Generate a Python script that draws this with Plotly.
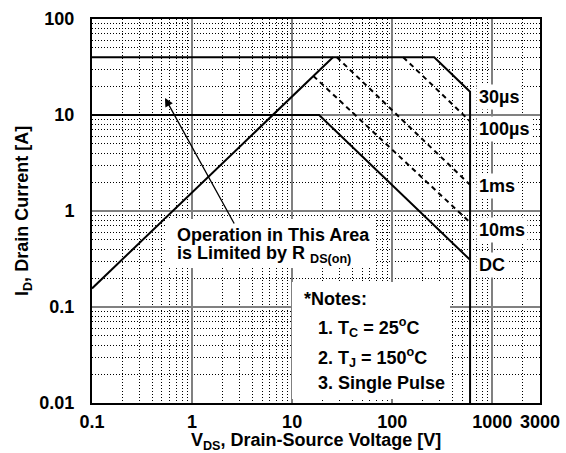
import plotly.graph_objects as go
import numpy as np

# ---- data ----
rds_v = [0.1, 25.6]
rds_i = [0.156, 40]
limit_v = [0.1, 263, 600, 600]          # 40 A limit + 30 us line + BVdss
limit_i = [40, 40, 17.5, 0.01]
dc_v = [0.1, 18.6, 600]
dc_i = [10, 10, 0.31]
us100_v = [129, 600]
us100_i = [40, 8.6]
ms1_v = [28, 600]
ms1_i = [40, 1.87]
ms10_v = [16.3, 600]
ms10_i = [25.5, 0.76]

x_ticks = [0.1, 1, 10, 100, 1000, 3000]
x_ticktext = ["0.1", "1", "10", "100", "1000", "3000"]
y_ticks = [0.01, 0.1, 1, 10, 100]
y_ticktext = ["0.01", "0.1", "1", "10", "100"]

FONT = "Arial, 'Liberation Sans', sans-serif"

# plot area in pixels
L, R, T, B = 92, 540, 19, 403
W, H = 566, 453


def px(x):
    return (x - L) / (R - L)


def py(y):
    return (B - y) / (B - T)


fig = go.Figure()
solid = dict(color="black", width=2)
dashed = dict(color="black", width=2, dash="5px,4px")
for xv, yv, ln in [(rds_v, rds_i, solid), (limit_v, limit_i, solid), (dc_v, dc_i, solid),
                   (us100_v, us100_i, dashed), (ms1_v, ms1_i, dashed), (ms10_v, ms10_i, dashed)]:
    fig.add_trace(go.Scatter(x=xv, y=yv, mode="lines", line=ln, showlegend=False, hoverinfo="skip"))

minor_x = [k * 10.0 ** e for e in range(-1, 4) for k in range(2, 10) if k * 10.0 ** e < 3000]
minor_y = [k * 10.0 ** e for e in range(-2, 2) for k in range(2, 10)]

axis_common = dict(
    type="log", automargin=False,
    showline=True, mirror=True, linecolor="black", linewidth=2,
    showgrid=True, gridcolor="#808080", gridwidth=2,
    ticks="", tickfont=dict(family=FONT, size=18, color="black", weight="bold"),
    zeroline=False,
)
minor_grid = dict(showgrid=True, gridcolor="black", griddash="1px,2px", gridwidth=1, ticks="")

fig.update_xaxes(**axis_common, range=[np.log10(0.1), np.log10(3000) + 1e-5],
                 tickmode="array", tickvals=x_ticks, ticktext=x_ticktext,
                 ticklabelstandoff=1,
                 minor=dict(tickmode="array", tickvals=minor_x, **minor_grid))
fig.update_yaxes(**axis_common, range=[np.log10(0.01), np.log10(100)],
                 tickmode="array", tickvals=y_ticks, ticktext=y_ticktext,
                 ticklabelstandoff=12,
                 minor=dict(tickmode="array", tickvals=minor_y, **minor_grid))

tfont = dict(family=FONT, size=18, color="black", weight="bold")
# axis titles
fig.add_annotation(x=px(316), y=py(441), xref="paper", yref="paper",
                   text="V<sub>DS</sub>, Drain-Source Voltage [V]", showarrow=False,
                   xanchor="center", yanchor="middle", font=tfont)
fig.add_annotation(x=px(23), y=py(211), xref="paper", yref="paper",
                   text="I<sub>D</sub>, Drain Current [A]", showarrow=False, textangle=-90,
                   xanchor="center", yanchor="middle", font=tfont)

# white boxes behind text blocks
for (x0, y0, x1, y1) in [(165, 219, 375, 268), (292, 282, 450, 399)]:
    fig.add_annotation(x=px(x0), y=py(y0), xref="paper", yref="paper", text=" ",
                       showarrow=False, xanchor="left", yanchor="top",
                       width=x1 - x0, height=y1 - y0, bgcolor="white", borderpad=0,
                       borderwidth=0)

afont = dict(family=FONT, size=18, color="black", weight="bold")


def text(x, y, s, anchor="left", bg=None, pad=0):
    fig.add_annotation(x=px(x), y=py(y), xref="paper", yref="paper", text=s,
                       showarrow=False, xanchor=anchor, yanchor="middle", font=afont,
                       bgcolor=bg, borderpad=pad)


text(176, 235, "Operation in This Area")
text(176, 255, "is Limited by R <sub>DS(on)</sub>")
text(303, 299, "*Notes:")
text(317, 327, "1. T<sub>C</sub> = 25<sup>o</sup>C")
text(317, 357, "2. T<sub>J</sub> = 150<sup>o</sup>C")
text(317, 383, "3. Single Pulse")

for s, y in [("30µs", 97), ("100µs", 129), ("1ms", 186), ("10ms", 230), ("DC", 265)]:
    text(476, y, s, bg="white", pad=2)

# arrow
fig.add_annotation(x=px(165), y=py(98), xref="paper", yref="paper", text="",
                   showarrow=True, ax=70, ay=127, arrowhead=2, arrowsize=1.3,
                   arrowwidth=1.3, arrowcolor="black")

fig.update_layout(width=W, height=H,
                  margin=dict(l=L, r=W - R, t=T, b=H - B, autoexpand=False),
                  paper_bgcolor="white", plot_bgcolor="white",
                  font=dict(family=FONT, color="black"))

fig.write_html("out.html", config={"displayModeBar": False},
               post_script="document.body.style.margin='0';")
